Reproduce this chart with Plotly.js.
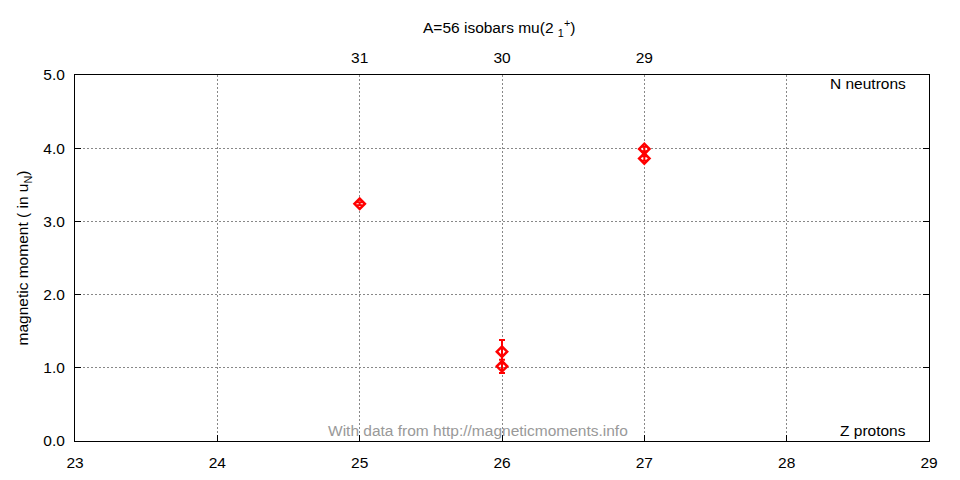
<!DOCTYPE html>
<html><head><meta charset="utf-8">
<script src="https://cdn.plot.ly/plotly-3.0.1.min.js"></script>
<style>body{margin:0;background:#fff}#chart{width:960px;height:480px}</style>
</head><body><div id="chart"></div>
<script>
const protonsZ = [25, 26, 26, 27, 27];
const moments = [3.24, 1.22, 1.02, 3.99, 3.86];
const errors = [0.02, 0.16, 0.09, 0.03, 0.03];
const topTickVals = [25, 26, 27];
const topTickText = ['31', '30', '29'];
const yTickVals = [0, 1, 2, 3, 4, 5];
const yTickText = ['0.0', '1.0', '2.0', '3.0', '4.0', '5.0'];

const font = {family: 'Liberation Sans, Arial, sans-serif', size: 15.5, color: '#000'};
const data = [{
  x: protonsZ, y: moments, type: 'scatter', mode: 'markers',
  marker: {symbol: 'diamond-open', size: 8, color: 'red', line: {width: 2.5, color: 'red'}},
  error_y: {type: 'data', array: errors, visible: true, color: 'red', thickness: 2, width: 3},
  showlegend: false, hoverinfo: 'x+y'
}, {
  x: topTickVals, y: [null, null, null], xaxis: 'x2', type: 'scatter', mode: 'markers', showlegend: false, hoverinfo: 'skip'
}];
const layout = {
  width: 960, height: 480,
  margin: {l: 75, r: 31, t: 75, b: 39},
  paper_bgcolor: '#fff', plot_bgcolor: '#fff',
  font: font,
  title: {text: 'A=56 isobars mu(2 <sub>1</sub><sup>+</sup>)', x: 0.52, xanchor: 'center', y: 0.942, yanchor: 'middle', font: font},
  xaxis: {range: [23, 29], dtick: 1, tickmode: 'linear', showgrid: true, gridcolor: '#888', griddash: '2px,2px', gridwidth: 1,
    zeroline: false, showline: true, linecolor: '#000', linewidth: 1, mirror: true, ticks: 'inside', ticklen: 6, tickcolor: '#000', tickfont: font, ticklabelstandoff: 7},
  xaxis2: {range: [23, 29], overlaying: 'x', side: 'top', tickmode: 'array', tickvals: topTickVals, ticktext: topTickText,
    showgrid: false, zeroline: false, showline: false, ticks: '', tickfont: font, ticklabelstandoff: 8},
  yaxis: {range: [0, 5], tickvals: yTickVals, ticktext: yTickText, showgrid: true, gridcolor: '#888', griddash: '2px,2px', gridwidth: 1,
    zeroline: false, showline: true, linecolor: '#000', linewidth: 1, mirror: 'ticks', ticks: 'inside', ticklen: 6, tickcolor: '#000', tickfont: font, ticklabelstandoff: 6,
    title: {text: 'magnetic moment ( in u<sub>N</sub>)', font: font, standoff: 10}},
  annotations: [
    {text: 'N neutrons', xref: 'paper', yref: 'paper', x: 0.975, y: 1.005, xanchor: 'right', yanchor: 'top', showarrow: false, font: font},
    {text: 'Z protons', xref: 'paper', yref: 'paper', x: 0.975, y: 0.0, xanchor: 'right', yanchor: 'bottom', showarrow: false, font: font},
    {text: 'With data from http://magneticmoments.info', xref: 'paper', yref: 'paper', x: 0.472, y: 0.0, xanchor: 'center', yanchor: 'bottom', showarrow: false,
      font: {family: font.family, size: 15.5, color: '#999'}}
  ]
};
Plotly.newPlot('chart', data, layout, {staticPlot: true, displayModeBar: false});
</script></body></html>
